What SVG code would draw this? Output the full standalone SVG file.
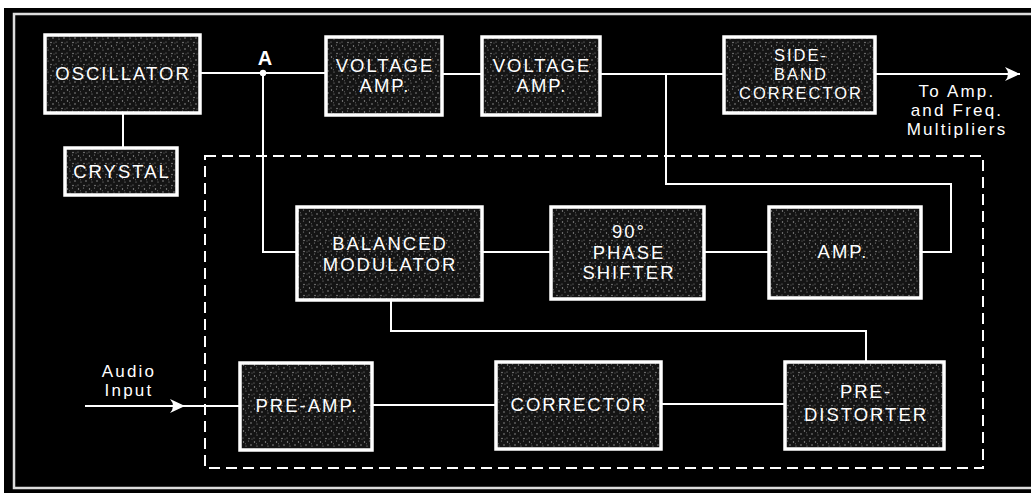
<svg xmlns="http://www.w3.org/2000/svg" width="1031" height="493" viewBox="0 0 1031 493">
<defs>
<pattern id="stip" width="11" height="11" patternUnits="userSpaceOnUse">
<rect width="11" height="11" fill="#141414"/>
<circle cx="1.5" cy="2" r="0.7" fill="#a0a0a0"/>
<circle cx="6.5" cy="1" r="0.6" fill="#8a8a8a"/>
<circle cx="9" cy="5" r="0.7" fill="#a8a8a8"/>
<circle cx="4" cy="6" r="0.6" fill="#959595"/>
<circle cx="1" cy="9" r="0.6" fill="#8c8c8c"/>
<circle cx="7" cy="9.5" r="0.7" fill="#a0a0a0"/>
<circle cx="10" cy="10" r="0.5" fill="#808080"/>
<circle cx="3.5" cy="3.8" r="0.5" fill="#7a7a7a"/>
</pattern>
<marker id="arr" viewBox="-16 -8 17 16" refX="0" refY="0" markerWidth="17" markerHeight="16" markerUnits="userSpaceOnUse" orient="auto">
<path d="M0,0 L-15,-7 Q-9,0 -15,7 Z" fill="#fff"/>
</marker>
</defs>
<style>
.box{fill:url(#stip);stroke:#fff;stroke-width:3.5}
.lbl{font-family:"Liberation Sans",Arial,sans-serif;font-size:18.5px;fill:#fff;text-anchor:middle;letter-spacing:2px}
.sm{font-size:16.5px;letter-spacing:2px}
.note{font-family:"Liberation Sans",Arial,sans-serif;font-size:17px;fill:#fff;text-anchor:middle;letter-spacing:2.2px}
.wire{fill:none;stroke:#fff;stroke-width:2}
.dash{fill:none;stroke:#fff;stroke-width:2;stroke-dasharray:11 6}
</style>
<rect width="1031" height="493" fill="#fff"/>
<rect x="4" y="8" width="1027" height="485" fill="#000"/>
<path d="M1031,14 H14 V488 H1031" fill="none" stroke="#ddd" stroke-width="2.5"/>
<rect class="dash" x="205" y="156" width="778" height="312"/>

<g id="connectors">
<path class="wire" d="M200,73 H326"/>
<path class="wire" d="M263,73 V252 H297"/>
<circle cx="263" cy="73" r="3.2" fill="#fff"/>
<path class="wire" d="M442,74 H482"/>
<path class="wire" d="M600,74 H724"/>
<path class="wire" d="M666,74 V184 H951 V252 H921"/>
<path class="wire" d="M123,113 V148"/>
<path class="wire" d="M482,252 H551"/>
<path class="wire" d="M704,252 H769"/>
<path class="wire" d="M391,300 V331 H866 V362"/>
<path class="wire" d="M85,406 H185" marker-end="url(#arr)"/>
<path class="wire" d="M185,406 H240"/>
<path class="wire" d="M372,405 H496"/>
<path class="wire" d="M661,404 H785"/>
<path class="wire" d="M875,74 H1020" marker-end="url(#arr)"/>
</g>

<g id="oscillator"><rect class="box" x="45" y="35" width="155" height="78"/><text class="lbl" x="123" y="80">OSCILLATOR</text></g>
<g id="crystal"><rect class="box" x="65" y="148" width="112" height="47"/><text class="lbl" x="122" y="178">CRYSTAL</text></g>
<g id="label-a"><text class="lbl" x="265" y="65" style="font-weight:bold;font-size:20px;letter-spacing:0">A</text></g>
<g id="voltage-amp-1"><rect class="box" x="326" y="37" width="116" height="78"/><text class="lbl" x="385" y="72">VOLTAGE</text><text class="lbl" x="385" y="92">AMP.</text></g>
<g id="voltage-amp-2"><rect class="box" x="482" y="37" width="118" height="78"/><text class="lbl" x="542" y="72">VOLTAGE</text><text class="lbl" x="542" y="92">AMP.</text></g>
<g id="sideband-corrector"><rect class="box" x="724" y="37" width="151" height="76"/><text class="lbl sm" x="801" y="61">SIDE-</text><text class="lbl sm" x="801" y="80">BAND</text><text class="lbl sm" x="801" y="99">CORRECTOR</text></g>
<g id="output-note"><text class="note" x="957" y="97">To Amp.</text><text class="note" x="957" y="116">and Freq.</text><text class="note" x="957" y="135">Multipliers</text></g>
<g id="balanced-modulator"><rect class="box" x="297" y="207" width="185" height="93"/><text class="lbl" x="390" y="250">BALANCED</text><text class="lbl" x="390" y="271">MODULATOR</text></g>
<g id="phase-shifter"><rect class="box" x="551" y="207" width="153" height="92"/><text class="lbl" x="629" y="238">90°</text><text class="lbl" x="629" y="259">PHASE</text><text class="lbl" x="629" y="279">SHIFTER</text></g>
<g id="amp"><rect class="box" x="769" y="207" width="152" height="91"/><text class="lbl" x="843" y="258">AMP.</text></g>
<g id="audio-input"><text class="note" x="129" y="377">Audio</text><text class="note" x="129" y="396">Input</text></g>
<g id="pre-amp"><rect class="box" x="240" y="363" width="132" height="87"/><text class="lbl" x="307" y="412">PRE-AMP.</text></g>
<g id="corrector"><rect class="box" x="496" y="362" width="165" height="87"/><text class="lbl" x="579" y="411">CORRECTOR</text></g>
<g id="pre-distorter"><rect class="box" x="785" y="362" width="159" height="87"/><text class="lbl" x="866" y="398">PRE-</text><text class="lbl" x="866" y="421">DISTORTER</text></g>
</svg>
